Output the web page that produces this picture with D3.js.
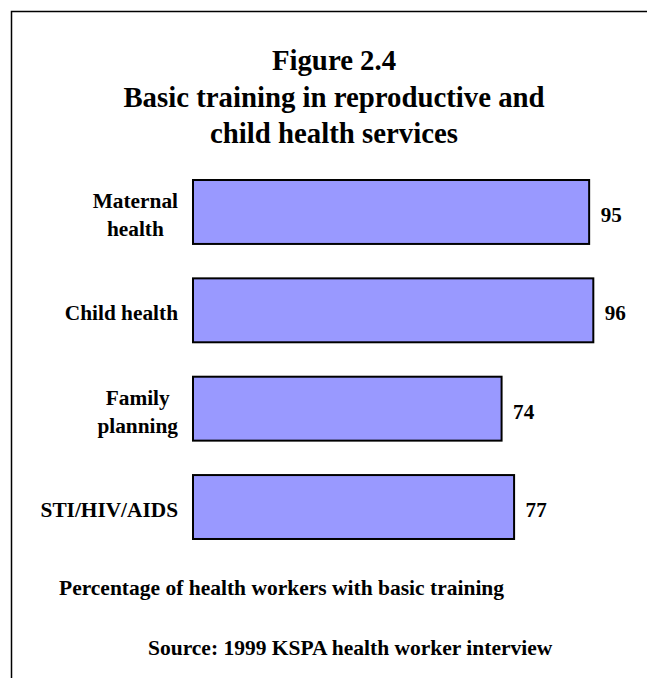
<!DOCTYPE html>
<html>
<head>
<meta charset="utf-8">
<script src="https://cdn.jsdelivr.net/npm/d3@7"></script>
<style>
  html, body { margin: 0; padding: 0; background: #fff; }
  text { font-family: "Liberation Serif", "Times New Roman", serif; font-weight: bold; fill: #000; }
</style>
</head>
<body>
<script>
// data
const categories = ["Maternal health", "Child health", "Family planning", "STI/HIV/AIDS"];
const labelLines = [["Maternal", "health"], ["Child health"], ["Family", "planning"], ["STI/HIV/AIDS"]];
const values = [95, 96, 74, 77];
const titleLines = ["Figure 2.4", "Basic training in reproductive and", "child health services"];
const axisNote = "Percentage of health workers with basic training";
const sourceNote = "Source: 1999 KSPA health worker interview";

const width = 647, height = 678;

const svg = d3.select('body').append('svg')
  .attr('width', width)
  .attr('height', height);

// frame (open at right and bottom, as in the scan)
svg.append('path')
  .attr('d', `M11.5,${height} V11.5 H${width}`)
  .attr('fill', 'none')
  .attr('stroke', '#000')
  .attr('stroke-width', 1.5);

const x = d3.scaleLinear().domain([0, 100]).range([193, 610]);
const y = d3.scaleBand()
  .domain(categories)
  .range([162.8, 556.2])
  .paddingInner(0.35)
  .paddingOuter(0.175);

// text with a slight horizontal squeeze
function squeezed(g, str, px, py, size, sx, anchor) {
  return g.append('g')
    .attr('transform', `translate(${px},${py}) scale(${sx},1)`)
    .append('text')
    .attr('text-anchor', anchor || 'middle')
    .attr('font-size', size)
    .text(str);
}

// title
titleLines.forEach((t, i) => {
  squeezed(svg, t, 334, 70 + i * 36.5, 30, 0.96);
});

// bars
svg.selectAll('rect.bar')
  .data(values)
  .enter()
  .append('rect')
  .attr('class', 'bar')
  .attr('x', x(0))
  .attr('y', (d, i) => y(categories[i]))
  .attr('width', d => x(d) - x(0))
  .attr('height', y.bandwidth())
  .attr('fill', '#9999FF')
  .attr('stroke', '#000')
  .attr('stroke-width', 2);

// value labels
values.forEach((v, i) => {
  const cy = y(categories[i]) + y.bandwidth() / 2;
  squeezed(svg, v, x(v) + 11.5, cy + 10, 22, 0.96, 'start');
});

// category labels: centred lines, block right aligned to x = 178
const labelSx = 0.97;
labelLines.forEach((lines, i) => {
  const cy = y(categories[i]) + y.bandwidth() / 2;
  const g = svg.append('g');
  const texts = lines.map((t, j) =>
    squeezed(g, t, 0, cy + 10 - (lines.length - 1) * 14 + j * 28, 22, labelSx));
  const w = d3.max(texts, t => t.node().getComputedTextLength()) * labelSx;
  g.attr('transform', `translate(${178 - w / 2},0)`);
});

// notes under the chart
squeezed(svg, axisNote, 59, 595, 21.5, 1, 'start');
squeezed(svg, sourceNote, 148, 655, 21.5, 1, 'start');
</script>
</body>
</html>
